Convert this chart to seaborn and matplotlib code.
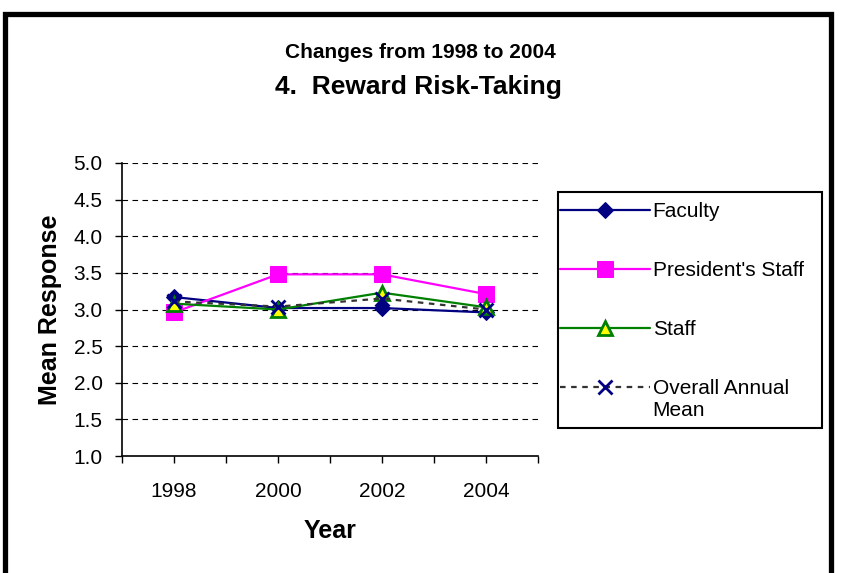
import pandas as pd
import matplotlib
matplotlib.use("Agg")
import matplotlib.pyplot as plt
import matplotlib.patches as mpatches
import seaborn as sns

years = ["1998", "2000", "2002", "2004"]
faculty = [3.17, 3.02, 3.02, 2.96]
presidents_staff = [2.96, 3.48, 3.48, 3.21]
staff = [3.08, 3.00, 3.23, 3.03]
overall_mean = [3.11, 3.04, 3.15, 3.00]

series_names = ["Faculty", "President's Staff", "Staff", "Overall Annual"]
series_values = [faculty, presidents_staff, staff, overall_mean]

styles = {
    "Faculty": dict(color="#000080", marker="D", markersize=8.5, markerfacecolor="#000080",
                    markeredgecolor="#000080", linestyle="-"),
    "President's Staff": dict(color="#FF00FF", marker="s", markersize=11, markerfacecolor="#FF00FF",
                              markeredgecolor="#FF00FF", linestyle="-"),
    "Staff": dict(color="#008000", marker="^", markersize=10, markerfacecolor="#FFFF00",
                  markeredgecolor="#008000", markeredgewidth=2, linestyle="-"),
    "Overall Annual": dict(color="#333333", marker="x", markersize=10, markerfacecolor="#000080",
                           markeredgecolor="#000080", markeredgewidth=2, linestyle=(0, (2.5, 2.5))),
}

rows = []
for name, vals in zip(series_names, series_values):
    for i, (yr, v) in enumerate(zip(years, vals)):
        rows.append({"Series": name, "pos": i, "Year": yr, "Mean Response": v})
df = pd.DataFrame(rows)

sns.set_style("white")
plt.rcParams["font.family"] = ["Liberation Sans", "DejaVu Sans"]
plt.rcParams["text.color"] = "black"
plt.rcParams["axes.labelcolor"] = "black"

fig = plt.figure(figsize=(8.46, 5.73), dpi=100)
ax = fig.add_axes([122 / 846, 1 - 456 / 573, 416 / 846, 293 / 573])

for name in series_names:
    sub = df[df["Series"] == name]
    sns.lineplot(data=sub, x="pos", y="Mean Response", ax=ax, linewidth=1.6,
                 label=name, **styles[name])

ax.set_xlim(-0.5, 3.5)
ax.set_ylim(1.0, 5.0)
ax.set_xticks([-0.5, 0, 0.5, 1, 1.5, 2, 2.5, 3, 3.5])
ax.set_xticklabels(["", years[0], "", years[1], "", years[2], "", years[3], ""])
ax.set_yticks([1.0, 1.5, 2.0, 2.5, 3.0, 3.5, 4.0, 4.5, 5.0])
ax.set_yticklabels([f"{t:.1f}" for t in ax.get_yticks()])
ax.tick_params(axis="both", which="both", direction="out", length=5, width=1,
               color="black", labelsize=15, labelcolor="black",
               left=True, bottom=True)
ax.tick_params(axis="y", pad=9)
ax.tick_params(axis="x", pad=14)
ax.yaxis.grid(True, color="black", linestyle=(0, (5, 4)), linewidth=0.8)
ax.xaxis.grid(False)
for s in ["top", "right"]:
    ax.spines[s].set_visible(False)
for s in ["left", "bottom"]:
    ax.spines[s].set_color("black")
    ax.spines[s].set_linewidth(1.2)

ax.set_xlabel("Year", fontsize=18, fontweight="bold", labelpad=13)
ax.set_ylabel("Mean Response", fontsize=18, fontweight="bold", labelpad=8)

fig.text(420 / 846, 1 - 52 / 573, "Changes from 1998 to 2004", ha="center", va="center",
         fontsize=15, fontweight="bold")
fig.text(418 / 846, 1 - 87 / 573, "4.  Reward Risk-Taking", ha="center", va="center",
         fontsize=19, fontweight="bold")

# legend: own box, entries placed inside
handles, labels = ax.get_legend_handles_labels()
if ax.get_legend():
    ax.get_legend().remove()
box = mpatches.Rectangle((558 / 846, 1 - 428 / 573), (822 - 558) / 846, (428 - 192) / 573,
                         transform=fig.transFigure, fill=False, edgecolor="black",
                         linewidth=1.5, zorder=5)
fig.patches.append(box)
leg = fig.legend(handles, labels, loc="upper left",
                 bbox_to_anchor=(560 / 846, 1 - 202 / 573), bbox_transform=fig.transFigure,
                 fontsize=15, frameon=False, handlelength=4.3, handletextpad=0.15,
                 labelspacing=1.92, borderpad=0, borderaxespad=0)

fig.canvas.draw()
last = leg.get_texts()[-1].get_window_extent()
fig.text(last.x0 / 846, (last.y0 - 22) / 573 + (last.height / 2) / 573, "Mean",
         ha="left", va="center", fontsize=15)

frame = mpatches.Rectangle((4.5 / 846, -0.05), (831 - 4.5) / 846, 1.05 - 14 / 573,
                           transform=fig.transFigure, fill=False, edgecolor="black",
                           linewidth=3.8, zorder=10)
fig.patches.append(frame)

fig.savefig("out.png", dpi=100)
